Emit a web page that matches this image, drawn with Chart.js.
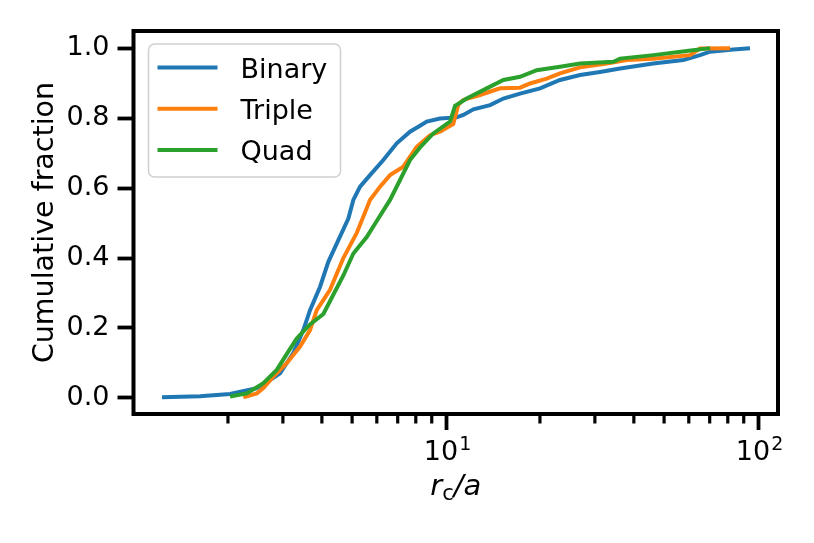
<!DOCTYPE html>
<html>
<head>
<meta charset="utf-8">
<script src="https://cdn.jsdelivr.net/npm/chart.js@4.4.1/dist/chart.umd.min.js"></script>
<style>
  html, body { margin: 0; padding: 0; background: #fff; }
  #wrap { width: 814px; height: 543px; }
</style>
</head>
<body>
<div id="wrap"><canvas id="c" width="814" height="543" style="width:814px;height:543px"></canvas></div>
<script>
// ---- data ----
const seriesNames = ['Binary', 'Triple', 'Quad'];
const seriesColors = ['#1f77b4', '#ff7f0e', '#2ca02c'];

const binaryX = [1.229, 1.627, 2.031, 2.474, 2.729, 2.937, 3.240, 3.488, 3.665, 3.947, 4.195, 4.517, 4.863, 5.046, 5.302, 5.706, 6.295, 6.950, 7.665, 8.254, 8.672, 9.567, 10.82, 11.36, 12.24, 13.84, 15.27, 17.27, 20.01, 23.19, 26.89, 31.16, 36.13, 46.17, 57.63, 65.19, 70.19, 83.36, 94.27];
const binaryY = [0.002, 0.005, 0.011, 0.028, 0.051, 0.070, 0.128, 0.194, 0.251, 0.318, 0.389, 0.451, 0.513, 0.566, 0.604, 0.637, 0.680, 0.728, 0.761, 0.778, 0.790, 0.799, 0.802, 0.809, 0.825, 0.837, 0.856, 0.870, 0.885, 0.909, 0.923, 0.932, 0.942, 0.956, 0.966, 0.980, 0.990, 0.996, 1.000];

const tripleX = [2.240, 2.474, 2.597, 2.796, 3.086, 3.405, 3.665, 3.851, 4.248, 4.687, 5.174, 5.431, 5.706, 6.145, 6.615, 7.297, 8.055, 8.888, 9.567, 10.55, 10.95, 11.36, 12.85, 14.90, 17.27, 18.59, 21.02, 23.19, 26.89, 32.74, 37.95, 46.17, 60.55, 65.19, 81.35];
const tripleY = [0.002, 0.013, 0.028, 0.061, 0.099, 0.147, 0.194, 0.251, 0.309, 0.400, 0.472, 0.518, 0.566, 0.604, 0.637, 0.661, 0.718, 0.751, 0.761, 0.783, 0.838, 0.852, 0.866, 0.885, 0.887, 0.899, 0.913, 0.928, 0.945, 0.956, 0.966, 0.970, 0.980, 0.999, 1.000];

const quadX = [2.031, 2.297, 2.597, 2.867, 3.086, 3.323, 3.665, 4.045, 4.352, 4.687, 5.046, 5.569, 6.067, 6.615, 7.122, 7.665, 8.254, 9.105, 10.30, 10.69, 11.65, 13.50, 15.27, 17.27, 19.53, 23.19, 26.89, 34.38, 36.13, 46.17, 59.09, 70.19];
const quadY = [0.004, 0.013, 0.042, 0.080, 0.125, 0.170, 0.210, 0.240, 0.295, 0.350, 0.413, 0.460, 0.513, 0.566, 0.623, 0.680, 0.716, 0.756, 0.790, 0.835, 0.856, 0.885, 0.909, 0.918, 0.937, 0.947, 0.956, 0.961, 0.970, 0.980, 0.992, 1.000];

const xMajorTicks = [10, 100];
const xMinorTicks = [2, 3, 4, 5, 6, 7, 8, 9, 20, 30, 40, 50, 60, 70, 80, 90];
const yTicks = [0.0, 0.2, 0.4, 0.6, 0.8, 1.0];
const yLabel = 'Cumulative fraction';

// ---- build ----
const FONT = "'DejaVu Sans', 'Liberation Sans', sans-serif";
const allX = [binaryX, tripleX, quadX];
const allY = [binaryY, tripleY, quadY];

const datasets = seriesNames.map((name, i) => ({
  label: name,
  data: allX[i].map((x, j) => ({ x: x, y: allY[i][j] })),
  borderColor: seriesColors[i],
  backgroundColor: seriesColors[i],
  borderWidth: 4,
  pointRadius: 0,
  tension: 0,
  fill: false,
  order: 3 - i
}));

function drawSup(ctx, base, exp, cx, baseline) {
  ctx.font = '27px ' + FONT;
  const wb = ctx.measureText(base).width;
  ctx.font = '19px ' + FONT;
  const we = ctx.measureText(exp).width;
  const x0 = cx - (wb + we) / 2 + 1;
  ctx.textAlign = 'left';
  ctx.textBaseline = 'alphabetic';
  ctx.font = '27px ' + FONT;
  ctx.fillText(base, x0, baseline);
  ctx.font = '19px ' + FONT;
  ctx.fillText(exp, x0 + wb + 1, baseline - 10);
}

const deco = {
  id: 'deco',
  afterDraw(chart) {
    const ctx = chart.ctx;
    const ca = chart.chartArea;
    const xs = chart.scales.x;
    ctx.save();
    ctx.strokeStyle = '#000';
    ctx.fillStyle = '#000';
    // minor ticks
    ctx.lineWidth = 3.2;
    for (const v of xMinorTicks) {
      const px = xs.getPixelForValue(v);
      ctx.beginPath();
      ctx.moveTo(px, ca.bottom);
      ctx.lineTo(px, ca.bottom + 9.5);
      ctx.stroke();
    }
    // frame (spines)
    ctx.lineWidth = 4;
    ctx.strokeRect(ca.left, ca.top, ca.right - ca.left, ca.bottom - ca.top);
    // x tick labels
    for (const v of xMajorTicks) {
      const px = xs.getPixelForValue(v);
      const e = Math.round(Math.log10(v));
      drawSup(ctx, '10', String(e), px, ca.bottom + 46);
    }
    // x title: r_c/a
    const cx = (ca.left + ca.right) / 2;
    const base = ca.bottom + 81;
    ctx.font = 'italic 29px ' + FONT;
    const wr = ctx.measureText('r').width;
    const wa = ctx.measureText('/a').width;
    ctx.font = '21px ' + FONT;
    const wc = ctx.measureText('c').width;
    let x0 = cx - (wr + wc + wa) / 2;
    ctx.textAlign = 'left';
    ctx.textBaseline = 'alphabetic';
    ctx.font = 'italic 29px ' + FONT;
    ctx.fillText('r', x0, base);
    ctx.font = '21px ' + FONT;
    ctx.fillText('c', x0 + wr, base + 5);
    ctx.font = 'italic 29px ' + FONT;
    ctx.fillText('/a', x0 + wr + wc, base);
    // y title
    ctx.save();
    ctx.translate(53, (ca.top + ca.bottom) / 2);
    ctx.rotate(-Math.PI / 2);
    ctx.textAlign = 'center';
    ctx.textBaseline = 'alphabetic';
    ctx.font = '28.5px ' + FONT;
    ctx.fillText(yLabel, 0, 0);
    ctx.restore();
    // legend
    const lx = ca.left + 15, ly = ca.top + 13, lw = 192, lh = 133;
    ctx.beginPath();
    ctx.roundRect(lx, ly, lw, lh, 6);
    ctx.fillStyle = 'rgba(255,255,255,0.8)';
    ctx.fill();
    ctx.strokeStyle = '#d0d0d0';
    ctx.lineWidth = 1.5;
    ctx.stroke();
    ctx.font = '27px ' + FONT;
    ctx.textAlign = 'left';
    ctx.textBaseline = 'alphabetic';
    seriesNames.forEach((name, i) => {
      const yy = ly + 23.5 + i * 41.3;
      ctx.strokeStyle = seriesColors[i];
      ctx.lineWidth = 4;
      ctx.beginPath();
      ctx.moveTo(lx + 9, yy);
      ctx.lineTo(lx + 69, yy);
      ctx.stroke();
      ctx.fillStyle = '#000';
      ctx.fillText(name, lx + 92, yy + 10);
    });
    ctx.restore();
  }
};

new Chart(document.getElementById('c'), {
  type: 'line',
  data: { datasets: datasets },
  plugins: [deco],
  options: {
    responsive: false,
    animation: false,
    events: [],
    layout: { padding: { left: 0, top: 31, right: 36, bottom: 0 } },
    plugins: { legend: { display: false }, tooltip: { enabled: false }, title: { display: false } },
    scales: {
      x: {
        type: 'logarithmic',
        min: 0.996,
        max: 115.9,
        afterBuildTicks: (s) => { s.ticks = xMajorTicks.map(v => ({ value: v, major: true })); },
        afterFit: (s) => { s.height = 129; },
        ticks: { display: false },
        grid: { display: true, drawOnChartArea: false, drawTicks: true, tickLength: 16, tickWidth: 3.8, tickColor: '#000' },
        border: { display: false }
      },
      y: {
        type: 'linear',
        min: -0.046,
        max: 1.049,
        afterBuildTicks: (s) => { s.ticks = yTicks.map(v => ({ value: v })); },
        afterFit: (s) => { s.width = 133.5; },
        ticks: {
          callback: (v) => Number(v).toFixed(1),
          font: { family: FONT, size: 27 },
          color: '#000',
          padding: 8
        },
        grid: { display: true, drawOnChartArea: false, drawTicks: true, tickLength: 16, tickWidth: 3.8, tickColor: '#000' },
        border: { display: false }
      }
    }
  }
});
</script>
</body>
</html>
